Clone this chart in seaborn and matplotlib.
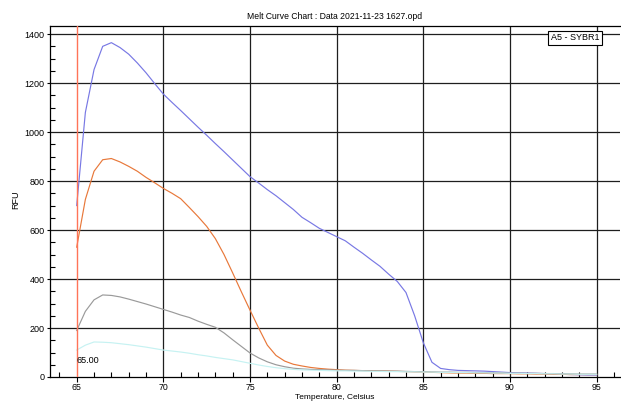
import numpy as np
import pandas as pd
import matplotlib
matplotlib.use("Agg")
import matplotlib.pyplot as plt
from matplotlib.ticker import MultipleLocator
import seaborn as sns

plt.rcParams["font.family"] = ["Liberation Sans", "DejaVu Sans"]

temperature = [
    65.0, 65.5, 66.0, 66.5, 67.0, 67.5, 68.0, 68.5, 69.0, 69.5,
    70.0, 70.5, 71.0, 71.5, 72.0, 72.5, 73.0, 73.5, 74.0, 74.5,
    75.0, 75.5, 76.0, 76.5, 77.0, 77.5, 78.0, 78.5, 79.0, 79.5,
    80.0, 80.5, 81.0, 81.5, 82.0, 82.5, 83.0, 83.5, 84.0, 84.5,
    85.0, 85.5, 86.0, 86.5, 87.0, 87.5, 88.0, 88.5, 89.0, 89.5,
    90.0, 90.5, 91.0, 91.5, 92.0, 92.5, 93.0, 93.5, 94.0, 94.5,
    95.0,
]

rfu_blue = [
    700, 1080, 1255, 1350, 1365, 1345, 1318, 1282, 1242, 1198,
    1155, 1121, 1088, 1054, 1020, 987, 953, 920, 886, 852,
    818, 792, 765, 740, 712, 684, 652, 630, 607, 590,
    573, 556, 530, 505, 478, 452, 420, 390, 345, 250,
    140, 60, 35, 30, 27, 26, 25, 24, 22, 20,
    18, 17, 16, 15, 14, 13, 11, 10, 9, 8,
    8,
]

rfu_orange = [
    530, 725, 840, 887, 892, 878, 860, 840, 815, 793,
    770, 750, 728, 692, 655, 615, 565, 500, 425, 348,
    273, 200, 130, 88, 65, 52, 45, 39, 35, 32,
    30, 28, 27, 26, 25, 25, 24, 23, 22, 21,
    20, 19, 18, 17, 16, 16, 15, 15, 14, 14,
    14, 13, 13, 12, 12, 11, 11, 10, 10, 10,
    10,
]

rfu_gray = [
    190, 268, 315, 335, 333, 327, 318, 308, 298, 287,
    276, 265, 253, 243, 228, 215, 203, 180, 152, 125,
    98, 78, 62, 50, 42, 36, 33, 31, 30, 29,
    28, 27, 27, 26, 25, 25, 24, 24, 23, 22,
    22, 21, 20, 20, 19, 19, 18, 18, 17, 17,
    16, 16, 15, 15, 14, 14, 13, 13, 12, 12,
    12,
]

rfu_cyan = [
    110, 130, 143, 142, 140, 136, 132, 127, 122, 116,
    110, 106, 102, 97, 91, 86, 80, 75, 70, 63,
    56, 49, 43, 38, 34, 31, 29, 28, 27, 26,
    25, 25, 24, 24, 23, 23, 22, 22, 21, 21,
    20, 20, 19, 19, 18, 18, 17, 17, 16, 16,
    15, 15, 14, 14, 13, 13, 12, 12, 11, 11,
    11,
]

well_names = ["w1", "w2", "w3", "w4"]
well_colors = ["#7878E4", "#E8783A", "#9A9A9A", "#C6F2F2"]

frames = []
for name, vals in zip(well_names, [rfu_blue, rfu_orange, rfu_gray, rfu_cyan]):
    frames.append(pd.DataFrame({"Temperature": temperature, "RFU": vals, "well": name}))
df = pd.concat(frames, ignore_index=True)

W, H = 621, 401
PT = 0.72  # points per pixel at 100 dpi
fig = plt.figure(figsize=(W / 100, H / 100), dpi=100)
left_px, right_px, top_px, bottom_px = 50, 620, 26, 377
ax = fig.add_axes([left_px / W, 1 - bottom_px / H,
                   (right_px - left_px) / W, (bottom_px - top_px) / H])

x_lo = 65 - (76.7 - left_px) / 17.33
x_hi = 65 + (right_px - 76.7) / 17.33
ax.set_xlim(x_lo, x_hi)
ax.set_ylim(0, 1433)

# grid at the major ticks
for v in range(200, 1401, 200):
    ax.axhline(v, color="#1e1e1e", lw=0.9, zorder=1)
for v in range(70, 96, 5):
    ax.axvline(v, color="#1e1e1e", lw=0.9, zorder=1)

sns.lineplot(data=df, x="Temperature", y="RFU", hue="well",
             palette=dict(zip(well_names, well_colors)),
             hue_order=["w1", "w2", "w3", "w4"],
             estimator=None, sort=False, lw=0.85, legend=False, ax=ax, zorder=3)

# melt marker at 65 °C
ax.axvline(65, color="#FF7458", lw=1.0, zorder=4)
ax.text(65, 69, "65.00", fontsize=6.5, ha="left", va="center", zorder=5)

ax.xaxis.set_major_locator(MultipleLocator(5))
ax.xaxis.set_minor_locator(MultipleLocator(1))
ax.yaxis.set_major_locator(MultipleLocator(200))
ax.yaxis.set_minor_locator(MultipleLocator(50))
ax.tick_params(axis="both", which="major", direction="out",
               width=0.8, labelsize=6.5, color="black")
ax.tick_params(axis="x", which="major", length=5 * PT, pad=1 * PT, labelsize=6.3)
ax.tick_params(axis="y", which="major", length=3.5 * PT, pad=2 * PT)
ax.tick_params(axis="both", which="minor", direction="in", length=5 * PT,
               width=0.8, color="black")
ax.set_xticks([65, 70, 75, 80, 85, 90, 95])
ax.set_xticklabels(["65", "70", "75", "80", "85", "90", "95"])

for side in ["left", "bottom", "top"]:
    ax.spines[side].set_color("black")
    ax.spines[side].set_linewidth(0.9)
ax.spines["right"].set_visible(False)

ax.set_xlabel("Temperature, Celsius", fontsize=6.0, va="top")
ax.xaxis.set_label_coords(0.5, -0.0475)
ax.set_ylabel("RFU", fontsize=6.5)
ax.yaxis.set_label_coords(-0.052, 0.504)

ax.set_title("Melt Curve Chart : Data 2021-11-23 1627.opd", fontsize=6.2, pad=5)

ax.text(0.921, 0.966, "A5 - SYBR1", transform=ax.transAxes, fontsize=6.5,
        ha="center", va="center", zorder=6,
        bbox=dict(boxstyle="square,pad=0.3", fc="white", ec="black", lw=0.8))

fig.savefig("out.png", dpi=100, facecolor="white")
